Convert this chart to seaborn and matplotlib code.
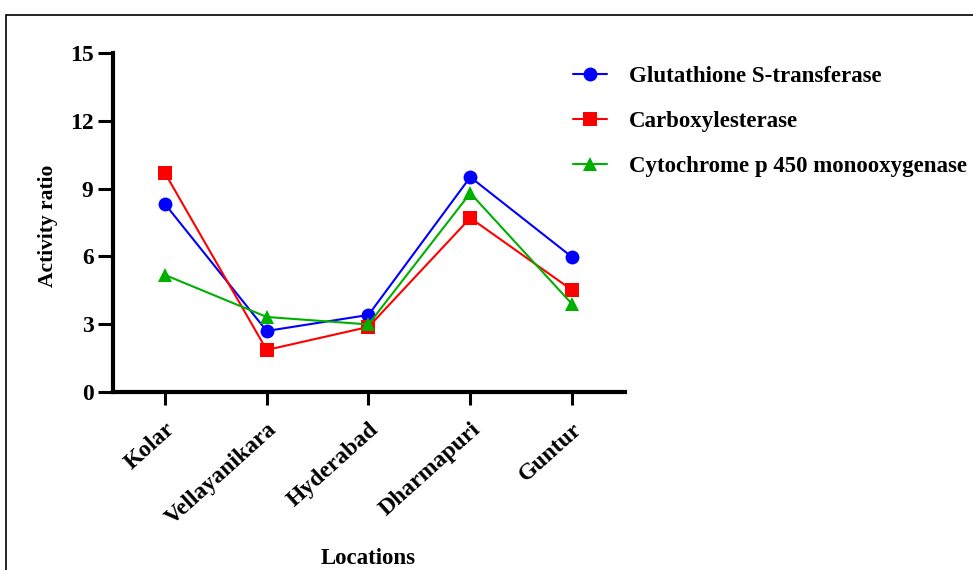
import pandas as pd
import matplotlib
matplotlib.use("Agg")
import matplotlib.pyplot as plt
from matplotlib.patches import Rectangle
from matplotlib.transforms import ScaledTranslation
import seaborn as sns

# --- Data ---
locations = ["Kolar", "Vellayanikara", "Hyderabad", "Dharmapuri", "Guntur"]
gst = [8.32, 2.70, 3.41, 9.51, 5.97]
carboxylesterase = [9.69, 1.86, 2.88, 7.70, 4.51]
cytochrome = [5.18, 3.32, 2.99, 8.80, 3.89]
enzymes = ["Glutathione S-transferase", "Carboxylesterase", "Cytochrome p 450 monooxygenase"]
y_ticks = [0, 3, 6, 9, 12, 15]

rows = []
for name, vals in zip(enzymes, [gst, carboxylesterase, cytochrome]):
    for i, (loc, v) in enumerate(zip(locations, vals)):
        rows.append({"pos": i, "Location": loc, "Enzyme": name, "Activity ratio": v})
df = pd.DataFrame(rows)

sns.set_theme(style="ticks", rc={"text.color": "black", "axes.labelcolor": "black",
                                 "xtick.color": "black", "ytick.color": "black"})
plt.rcParams["font.family"] = ["Liberation Serif", "DejaVu Serif"]
plt.rcParams["font.weight"] = "bold"

fig = plt.figure(figsize=(9.73, 5.70), dpi=100)
ax = fig.add_axes([113 / 973, 1 - 392 / 570, (625 - 113) / 973, (392 - 53) / 570])

palette = {enzymes[0]: "#0000FF", enzymes[1]: "#FF0000", enzymes[2]: "#00B000"}
markers = {enzymes[0]: "o", enzymes[1]: "s", enzymes[2]: "^"}

sns.lineplot(data=df, x="pos", y="Activity ratio", hue="Enzyme", style="Enzyme",
             palette=palette, markers=markers, dashes=False, markersize=10,
             markeredgewidth=0, linewidth=1.5, ax=ax, legend=True)

ax.set_xlim(-0.51, 4.52)
ax.set_ylim(0, 15)
ax.set_yticks(y_ticks)
ax.set_xticks(range(len(locations)))

for side in ["top", "right"]:
    ax.spines[side].set_visible(False)
for side in ["left", "bottom"]:
    ax.spines[side].set_linewidth(3)
    ax.spines[side].set_color("black")
ax.tick_params(axis="y", length=11, width=2.2, color="black", pad=3)
ax.tick_params(axis="x", length=9, width=2.2, color="black", pad=3)

ax.set_xticklabels(locations, rotation=42, ha="right", rotation_mode="anchor",
                   fontsize=17, fontweight="bold")
# nudge the slanted labels a little lower, as in the reference
shift = ScaledTranslation(0, -10 / 100, fig.dpi_scale_trans)
for lbl in ax.xaxis.get_majorticklabels():
    lbl.set_transform(lbl.get_transform() + shift)
for lbl in ax.get_yticklabels():
    lbl.set_fontsize(17)
    lbl.set_fontweight("bold")

ax.set_xlabel("Locations", fontsize=16.5, fontweight="bold")
ax.set_ylabel("Activity ratio", fontsize=15.5, fontweight="bold")
ax.xaxis.set_label_coords((368 - 113) / 512, (392 - 548) / 339)
ax.yaxis.set_label_coords((58 - 113) / 512, (392 - 226) / 339)

handles, labels = ax.get_legend_handles_labels()
ax.legend(handles, labels, loc="upper left", bbox_to_anchor=(573 / 973, 1 - 66 / 570),
          bbox_transform=fig.transFigure, frameon=False, borderpad=0, borderaxespad=0,
          handlelength=1.5, handletextpad=0.95, labelspacing=1.04,
          prop={"family": "Liberation Serif", "weight": "bold", "size": 16.5})

# frame around the figure like the reference screenshot
fig.patches.append(Rectangle((6 / 973, -0.2), 1.2, 1.2 - 15 / 570,
                             transform=fig.transFigure, fill=False,
                             edgecolor="black", linewidth=1.2))

fig.savefig("out.png", dpi=100)
plt.close(fig)
